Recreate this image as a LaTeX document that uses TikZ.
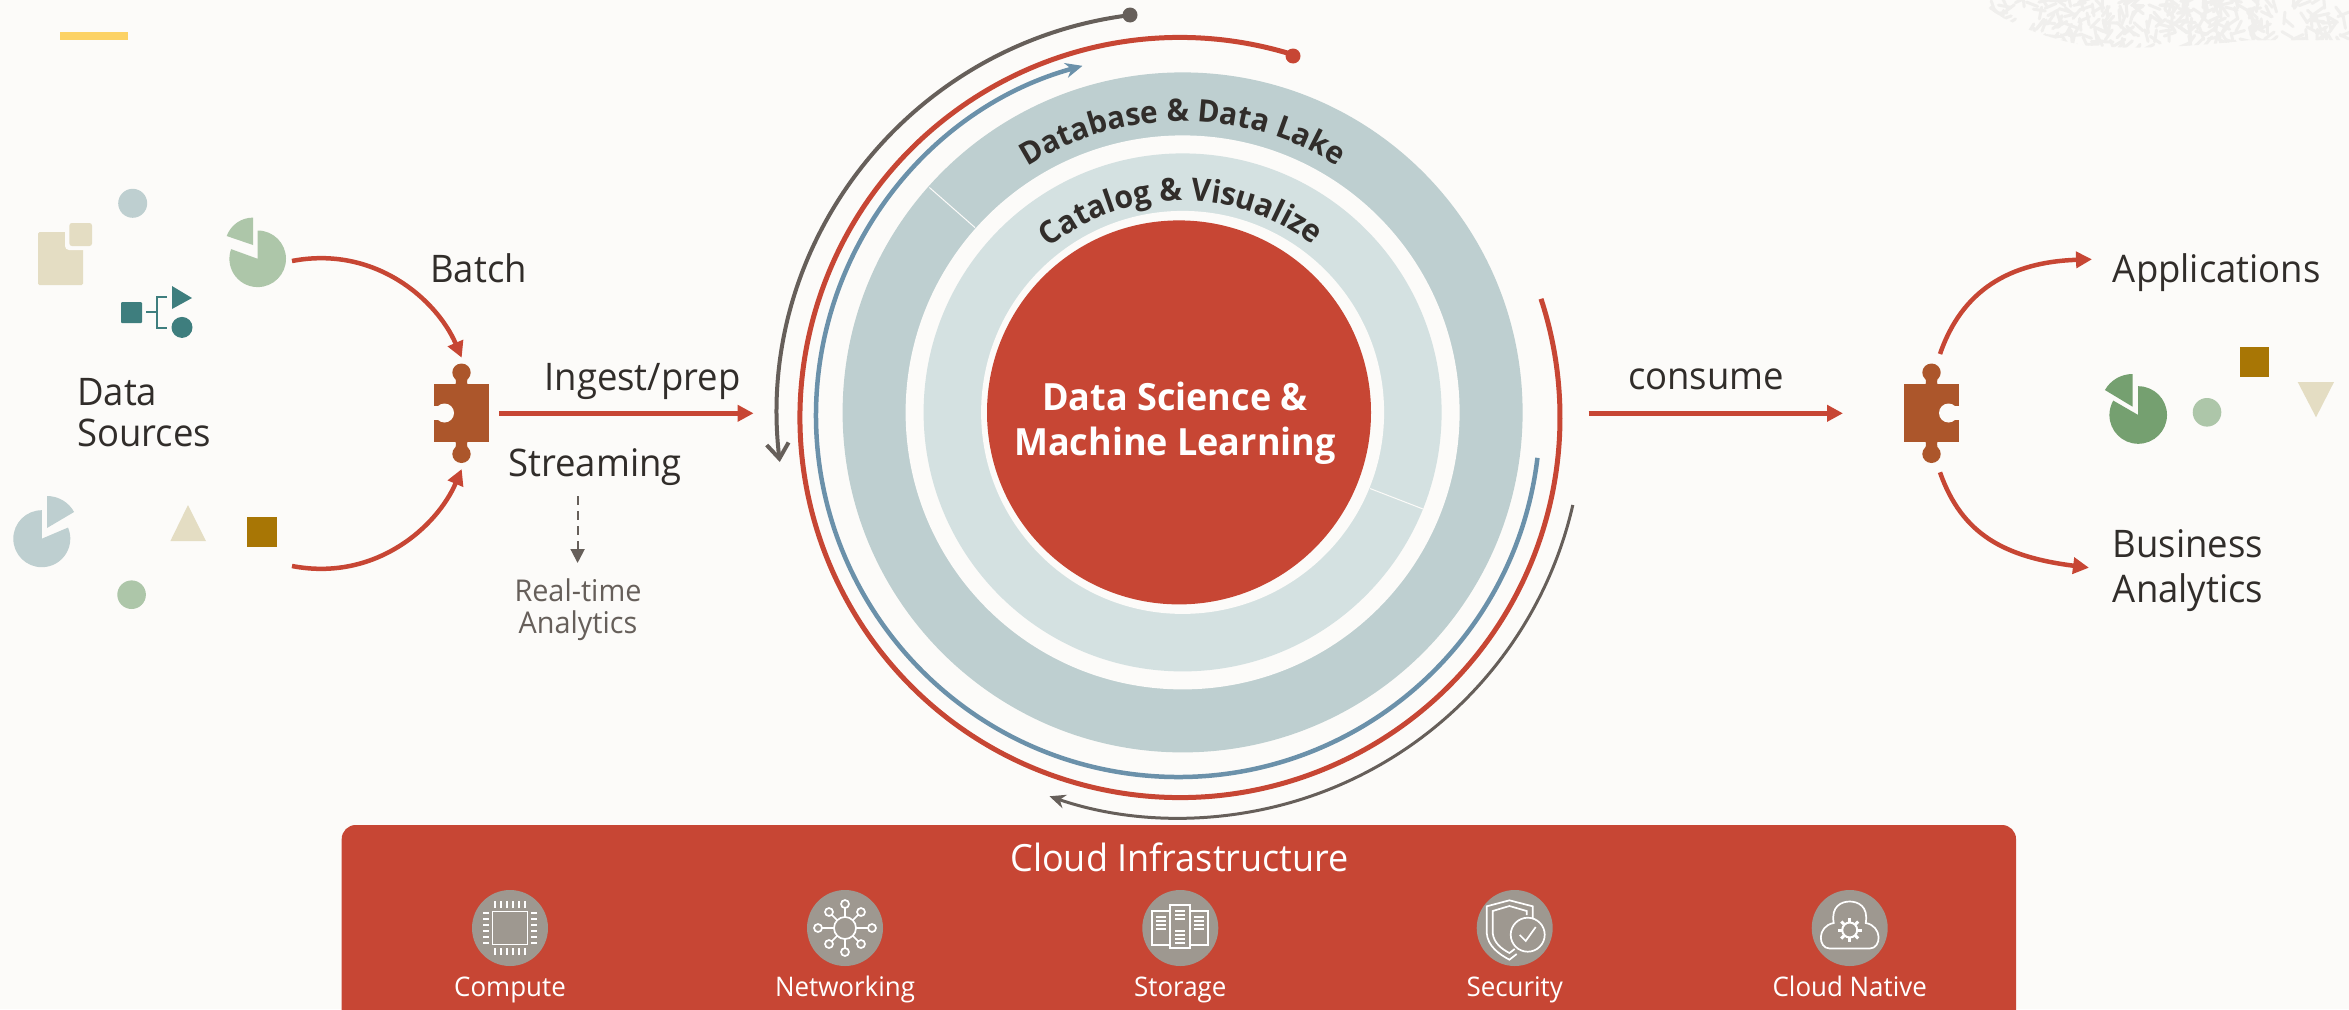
\documentclass[tikz,border=0pt]{standalone}
\usepackage{fontspec}
\setmainfont[FakeStretch=0.96]{Open Sans}
\usetikzlibrary{arrows.meta,decorations.text,calc,positioning}
\definecolor{bgc}{HTML}{FCFBF9}
\definecolor{ored}{HTML}{C74634}
\definecolor{ringa}{HTML}{BECFD0}
\definecolor{ringb}{HTML}{D4E1E1}
\definecolor{oblue}{HTML}{6B91AA}
\definecolor{ogrey}{HTML}{665F5A}
\definecolor{ink}{HTML}{312D2A}
\definecolor{puzz}{HTML}{AC562B}
\definecolor{sage}{HTML}{ADC6A9}
\definecolor{dsage}{HTML}{75A070}
\definecolor{sand}{HTML}{E4DDC3}
\definecolor{ochre}{HTML}{A87605}
\definecolor{tealc}{HTML}{3E7E7E}
\definecolor{iconc}{HTML}{9E9890}
\definecolor{texc}{HTML}{F0EFED}
\definecolor{accentyellow}{HTML}{FCD265}
\newcommand{\puzzlepiece}[2]{%
 \begin{scope}[shift={(#1)},xscale=#2]
  \fill[puzz] (-27.8,-29) rectangle (27.8,29);
  \fill[puzz] (-6,25) .. controls (-6,31) and (-5,32) .. (-6,36) -- (6,36) .. controls (5,32) and (6,31) .. (6,25) -- cycle;
  \fill[puzz] (-6,-25) .. controls (-6,-31) and (-5,-32) .. (-6,-36) -- (6,-36) .. controls (5,-32) and (6,-31) .. (6,-25) -- cycle;
  \fill[puzz] (0,40.5) ellipse (9.2 and 9);
  \fill[puzz] (0,-41) ellipse (9.2 and 9);
  \fill[bgc] (-17,0) circle (9.5);
  \fill[bgc] (-29,-7) rectangle (-20,7);
 \end{scope}}
\tikzset{
 lbl/.style={inner sep=0pt,text=ink,font=\fontsize{38}{41}\selectfont},
 lblsmall/.style={inner sep=0pt,text=ogrey,font=\fontsize{30}{32}\selectfont,align=center},
 flow/.style={draw=ored,line width=4.5pt,-{Triangle[length=16pt,width=16pt]}},
 iconbg/.style={circle,fill=iconc,minimum size=76pt,inner sep=0pt},
 iconlbl/.style={inner sep=0pt,text=white,font=\fontsize{27}{29}\selectfont},
 iconline/.style={draw=white,line width=1.7pt},
 dotg/.style={circle,fill=ogrey,minimum size=15pt,inner sep=0pt},
 dotr/.style={circle,fill=ored,minimum size=15pt,inner sep=0pt},
 curved/.style={decorate,decoration={text along path,text align=center,text color=ink,text={#1}}}
}
\begin{document}
\begin{tikzpicture}[x=1pt,y=1pt]
\clip (0,-1009) rectangle (2349,0);
\fill[bgc] (0,-1009) rectangle (2349,0);
% texture
\begin{scope}
 \clip (1983,0) -- (1983,-3) .. controls (2000,-20) and (2040,-37) .. (2083,-45) .. controls (2130,-50) and (2190,-47) .. (2250,-40) -- (2349,-40) -- (2349,0) -- cycle;
 \pgfmathsetseed{11}
 \foreach \i in {1,...,300}{
  \pgfmathsetmacro{\tx}{1985+364*rnd}
  \pgfmathsetmacro{\ty}{-50*rnd}
  \pgfmathsetmacro{\ta}{180*rnd}
  \draw[texc,line width=3pt,line cap=round] ([shift={(\ta:6)}]\tx,\ty) -- ([shift={(\ta+180:6)}]\tx,\ty);
 }
\end{scope}
% yellow bar
\fill[fill=accentyellow] (60,-31.6) rectangle (127.6,-40);
% rings
\coordinate (ringc) at (1182.6,-412.4);
\fill[ringa] (ringc) circle (340);
\fill[bgc] (ringc) circle (277);
\fill[ringb] (ringc) circle (259);
\fill[bgc] (ringc) circle (201.5);
\coordinate (sepa1) at (929.4,-187.5);
\coordinate (sepa2) at (975,-227.6);
\coordinate (sepb1) at (1370,-488.5);
\coordinate (sepb2) at (1423,-509);
\draw[bgc,line width=1pt] (sepa1) -- (sepa2);
\draw[bgc,line width=1pt] (sepb1) -- (sepb2);
\node[circle,fill=ored,minimum size=384pt,inner sep=0pt] (core) at (1179,-412.4) {};
\node[inner sep=0pt,align=center,text=white,font=\fontsize{37.5}{45}\selectfont\bfseries] (coretext) at (1175,-423) {Data Science \&\\Machine Learning};
% curved labels
\path[curved={|\fontsize{31}{33}\selectfont\bfseries|Database {\&} Data Lake}]
 ([shift={(130:291)}]ringc) arc[start angle=130,end angle=50,radius=291];
\path[curved={|\fontsize{31.5}{33}\selectfont\bfseries|Catalog {\&} Visualize}]
 ([shift={(140:212)}]ringc) arc[start angle=140,end angle=41,radius=212];
% circular flows
\coordinate (acr) at (1180,-417.5);
\coordinate (acb) at (1178,-415);
\coordinate (acg) at (1180,-415);
\node[dotr] (reddot) at (1293,-56) {};
\node[dotg] (greydot) at (1130,-15) {};
\draw[ored,line width=5pt] ([shift={(72.6:380)}]acr) arc[start angle=72.6,end angle=378.2,radius=380];
\draw[oblue,line width=4.5pt,-{Stealth[length=17pt,width=15pt]}] ([shift={(-6.8:362)}]acb) arc[start angle=-6.8,end angle=-254.7,radius=362];
\draw[ogrey,line width=4pt,-{Straight Barb[length=15pt,width=22pt,line width=4pt]}] ([shift={(97.1:403)}]acg) arc[start angle=97.1,end angle=186.7,radius=403];
\draw[ogrey,line width=3pt,-{Stealth[length=16pt,width=14pt]}] ([shift={(-12.9:403)}]acg) arc[start angle=-12.9,end angle=-108.9,radius=403];
% left icons
\node[circle,fill=ringa,minimum size=29pt,inner sep=0pt] (c1) at (132.7,-203.3) {};
\fill[sand,rounded corners=1.5pt] (38,-285) rectangle (83,-232);
\fill[bgc,rounded corners=4pt] (65,-250) rectangle (95,-220);
\fill[sand,rounded corners=2.5pt] (69.4,-246) rectangle (92,-223);
\fill[sage] (257.7,-258.8) -- (257.7,-230.5) arc[start angle=90,end angle=-200,radius=28.3] -- cycle;
\fill[sage] (253,-245) -- (253,-217.6) arc[start angle=90,end angle=160,radius=28] -- cycle;
\fill[tealc,rounded corners=1pt] (121,-323) rectangle (142,-302);
\fill[tealc] (172,-286) -- (192,-298) -- (172,-309) -- cycle;
\node[circle,fill=tealc,minimum size=21pt,inner sep=0pt] (c2) at (182,-327.4) {};
\draw[tealc,line width=2pt] (146.4,-312) -- (156.5,-312);
\draw[tealc,line width=2pt] (167,-297) -- (156.5,-297) -- (156.5,-327.5) -- (167,-327.5);
\fill[ringa] (41.8,-538.7) -- (41.8,-510.2) arc[start angle=90,end angle=383,radius=28.5] -- cycle;
\fill[ringa] (47,-528) -- (47,-496) arc[start angle=90,end angle=29,radius=31] -- cycle;
\fill[sand] (188,-505) -- (206,-541) -- (170.4,-541) -- cycle;
\fill[ochre] (247,-547) rectangle (277,-517);
\node[circle,fill=sage,minimum size=28.6pt,inner sep=0pt] (c3) at (131.6,-594.7) {};
% puzzle pieces
\puzzlepiece{461.5,-413}{1}
\puzzlepiece{1931.5,-413}{-1}
\coordinate (pl) at (461.5,-413);
\coordinate (pr) at (1931.5,-413);
% left arrows
\coordinate (bs) at (292,-261);
\coordinate (bt) at (461.7,-357.7);
\coordinate (ss) at (292,-566);
\coordinate (st) at (461.7,-469);
\draw[flow] (bs) .. controls (375,-245) and (437,-300) .. (bt);
\draw[flow] (ss) .. controls (375,-582) and (437,-527) .. (st);
\coordinate (is) at (499,-413.3);
\coordinate (it) at (753.6,-413.3);
\draw[flow] (is) -- (it);
\node[lbl,anchor=base west] (batch) at (430,-282) {Batch};
\node[lbl,anchor=west,align=left] (dsrc) at (77,-412.5) {Data\\Sources};
\node[lbl,anchor=base] (ingest) at (642.5,-390) {Ingest/prep};
\node[lbl,anchor=base] (stream) at (595,-476.5) {Streaming};
\node[lblsmall,anchor=north] (rt) at (578,-578.5) {Real-time\\Analytics};
\coordinate (ds) at (577.6,-496);
\coordinate (dt) at (577.6,-563);
\draw[ogrey,line width=2pt,dash pattern=on 9pt off 6pt,-{Triangle[length=14pt,width=14pt]}] (ds) -- (dt);
% right side
\coordinate (cs) at (1588.7,-413.3);
\coordinate (ct) at (1843,-413.3);
\draw[flow] (cs) -- (ct);
\node[lbl,anchor=base] (consume) at (1706,-389.5) {consume};
\coordinate (us) at (1940,-354);
\coordinate (ut) at (2092,-259.3);
\coordinate (ls) at (1940,-472.3);
\coordinate (lt) at (2089,-567.7);
\draw[flow] (us) .. controls (1962,-290) and (2010,-262) .. (ut);
\draw[flow] (ls) .. controls (1962,-535) and (2005,-557) .. (lt);
\node[lbl,anchor=base west] (apps) at (2112.7,-282.5) {Applications};
\node[lbl,anchor=west,align=left,font=\fontsize{38}{45}\selectfont] (ba) at (2112.7,-570.5) {Business\\Analytics};
\fill[dsage] (2138.2,-415) -- (2138.2,-386.2) arc[start angle=90,end angle=-210,radius=28.8] -- cycle;
\fill[dsage] (2132.6,-406.7) -- (2132.6,-374) arc[start angle=90,end angle=150,radius=32] -- cycle;
\node[circle,fill=sage,minimum size=28.6pt,inner sep=0pt] (c4) at (2207,-412.3) {};
\fill[ochre] (2239.6,-377.3) rectangle (2269,-347);
\fill[sand] (2297.7,-382) -- (2334,-382) -- (2316,-417.3) -- cycle;
% bottom panel
\fill[ored,rounded corners=14pt] (341.7,-1024) rectangle (2016,-825);
\node[inner sep=0pt,text=white,font=\fontsize{37.5}{40}\selectfont,anchor=base] (cloud) at (1179.5,-871) {Cloud Infrastructure};
\foreach \nm/\cx/\tx in {a/510/Compute,b/845/Networking,c/1180.3/Storage,d/1514.7/Security,e/1849.7/Cloud Native}{
 \node[iconbg] (ic\nm) at (\cx,-928) {};
 \node[iconlbl,anchor=base] (il\nm) at (\cx,-996) {\tx};
}
% compute icon
\begin{scope}[shift={(510,-928)}]
 \draw[iconline] (-17.5,-16.5) rectangle (17.5,16.5);
 \foreach \yy in {-15,-9,-3,3,9,15}{
  \draw[iconline] (-27,\yy) -- (-21,\yy);
  \draw[iconline] (21,\yy) -- (27,\yy);
 }
 \foreach \xx in {-15,-9,-3,3,9,15}{
  \draw[iconline] (\xx,20) -- (\xx,27);
  \draw[iconline] (\xx,-27) -- (\xx,-20);
 }
\end{scope}
% network icon
\begin{scope}[shift={(845,-928)}]
 \draw[iconline] (0,0) circle (11);
 \foreach \sx/\sy in {0/24,16/16,27/0,16/-16,0/-24,-16/-16,-27/0,-16/16}{
  \draw[iconline] (\sx,\sy) circle (4);
  \draw[iconline] ($(0,0)!11pt!(\sx,\sy)$) -- ($(\sx,\sy)!4pt!(0,0)$);
 }
\end{scope}
% storage icon
\begin{scope}[shift={(1180.3,-928)}]
 \draw[iconline] (-10,-20) rectangle (10,23);
 \draw[iconline] (-28,-17) rectangle (-10,17);
 \draw[iconline] (10,-17) rectangle (28,17);
 \foreach \yy in {17,13,9,-3,-7,-11,-15}{\draw[white,line width=1.2pt] (-5,\yy) -- (5,\yy);}
 \foreach \xq in {-19,19}{\foreach \yy in {11,7,3,-1}{\draw[white,line width=1.2pt] (\xq-5,\yy) -- (\xq+5,\yy);}}
\end{scope}
% security icon
\begin{scope}[shift={(1514.7,-928)}]
 \draw[iconline] (18,10) -- (18,21.7) -- (-5.3,27.7) -- (-28,21.7) -- (-28,-5) .. controls (-27,-18) and (-16,-26) .. (-5.3,-31.7) -- (2,-26);
 \draw[iconline] (12,13) -- (12,17) -- (-5.3,22) -- (-22,17) -- (-22,-5) .. controls (-21,-15) and (-13,-21) .. (-5.3,-25) -- (0,-21);
 \draw[iconline,fill=iconc] (13,-6.7) circle (17);
 \draw[iconline] (5,-7) -- (11,-13) -- (21,1);
\end{scope}
% cloud native icon
\begin{scope}[shift={(1849.7,-928)}]
 \draw[iconline] (-20,-20.5) -- (20,-20.5) .. controls (32,-20.5) and (33,2) .. (16,5) .. controls (19,22) and (8,26.5) .. (0,26.5) .. controls (-8,26.5) and (-19,22) .. (-16,5) .. controls (-33,2) and (-32,-20.5) .. (-20,-20.5) -- cycle;
 \draw[white,line width=2pt] (0,-2) circle (7.5);
 \foreach \ga in {0,45,...,315}{\draw[white,line width=3pt] ([shift={(\ga:8)}]0,-2) -- ([shift={(\ga:12)}]0,-2);}
\end{scope}
\end{tikzpicture}
\end{document}
